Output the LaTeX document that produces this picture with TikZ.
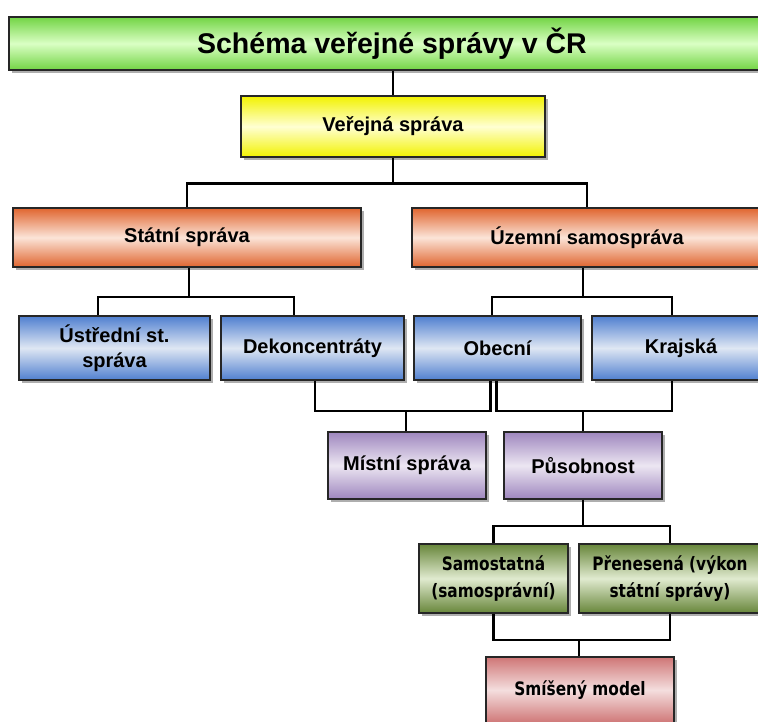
\documentclass[tikz,border=0pt]{standalone}
\usepackage{fontspec}
\setmainfont{Liberation Sans}
\newfontfamily\tahomafont[FakeStretch=0.83]{DejaVu Sans}
\usetikzlibrary{shadows}
\definecolor{gE}{HTML}{72D444}\definecolor{gM}{HTML}{DAFFC4}
\definecolor{yE}{HTML}{F2F200}\definecolor{yM}{HTML}{FFFFD2}
\definecolor{oE}{HTML}{E0652F}\definecolor{oM}{HTML}{FBE4D8}
\definecolor{bE}{HTML}{4F7FD0}\definecolor{bM}{HTML}{DFE7F3}
\definecolor{pE}{HTML}{9E86BE}\definecolor{pM}{HTML}{ECE6F2}
\definecolor{vE}{HTML}{67863A}\definecolor{vM}{HTML}{E0EACF}
\definecolor{rE}{HTML}{CF7676}\definecolor{rM}{HTML}{F4DEDE}
\begin{document}
\begin{tikzpicture}[x=1pt,y=-1pt,
  box/.style={draw=black!85, line width=1.2pt, inner sep=0pt, align=center,
    drop shadow={shadow xshift=3pt, shadow yshift=-3pt, opacity=0.45, fill=black!70},
    font=\bfseries\fontsize{20}{25}\selectfont},
  grad/.style 2 args={top color=#1, bottom color=#1, middle color=#2},
  tbox/.style={box, font=\tahomafont\bfseries\fontsize{18.5}{27}\selectfont},
  conn/.style={draw=black, line width=2.2pt, line join=miter}]
\useasboundingbox (0,0) rectangle (758,722);
\clip (0,0) rectangle (758,722);
\fill[white] (0,0) rectangle (758,722);
% nodes
\node[box, grad={gE}{gM}, minimum width=766pt, minimum height=53pt,
      font=\bfseries\fontsize{28.5}{32}\selectfont] (title) at (392,43.5) {Schéma veřejné správy v ČR};
\node[box, grad={yE}{yM}, minimum width=304pt, minimum height=61pt] (ver) at (393,126.5) {Veřejná správa};
\node[box, grad={oE}{oM}, minimum width=348pt, minimum height=59pt] (statni) at (187,237.5) {Státní správa};
\node[box, grad={oE}{oM}, minimum width=350pt, minimum height=59pt] (uzemni) at (587,237.5) {Územní samospráva};
\node[box, grad={bE}{bM}, minimum width=191pt, minimum height=64pt] (ustr) at (114.5,348) {Ústřední st.\\správa};
\node[box, grad={bE}{bM}, minimum width=183pt, minimum height=64pt] (dek) at (312.5,348) {Dekoncentráty};
\node[box, grad={bE}{bM}, minimum width=167pt, minimum height=64pt] (obec) at (497.5,348) {Obecní};
\node[box, grad={bE}{bM}, minimum width=178pt, minimum height=64pt] (kraj) at (681,348) {Krajská};
\node[box, grad={pE}{pM}, minimum width=158pt, minimum height=67pt] (mistni) at (407,465.5) {Místní správa};
\node[box, grad={pE}{pM}, minimum width=158pt, minimum height=67pt] (pus) at (583,465.5) {Působnost};
\node[tbox, grad={vE}{vM}, minimum width=149pt, minimum height=69pt] (samo) at (493.5,578.5) {Samostatná\\(samosprávní)};
\node[tbox, grad={vE}{vM}, minimum width=182pt, minimum height=69pt] (pren) at (670,578.5) {Přenesená (výkon\\státní správy)};
\node[tbox, grad={rE}{rM}, minimum width=188pt, minimum height=66pt] (smis) at (580,690) {Smíšený model};
% connectors
\draw[conn] (ver.north |- title.south) -- (ver.north);
\draw[conn] (ver.south) -- ++(0,26) coordinate (b1) -| (statni.north);
\draw[conn] (b1) -| (uzemni.north);
\draw[conn] ([xshift=2pt]statni.south) -- ++(0,29) coordinate (b2) -| ([xshift=-16.5pt]ustr.north);
\draw[conn] (b2) -| ([xshift=-18.5pt]dek.north);
\draw[conn] ([xshift=-4pt]uzemni.south) -- ++(0,29) coordinate (b3) -| ([xshift=-5.5pt]obec.north);
\draw[conn] (b3) -| ([xshift=-9pt]kraj.north);
\draw[conn] ([xshift=2.5pt]dek.south) -- ++(0,30) coordinate (b4) -| ([xshift=-7pt]obec.south);
\draw[conn] ([xshift=-1pt]mistni.north) -- ([xshift=-1pt]mistni.north |- b4);
\draw[conn] ([xshift=-1pt]obec.south) -- ++(0,30) coordinate (b5) -| ([xshift=-9pt]kraj.south);
\draw[conn] (pus.north) -- (pus.north |- b5);
\draw[conn] (pus.south) -- ++(0,26) coordinate (b6) -| (samo.north);
\draw[conn] (b6) -| (pren.north);
\draw[conn] (samo.south) -- ++(0,26) coordinate (b7) -| (pren.south);
\draw[conn] ([xshift=-1pt]smis.north) -- ([xshift=-1pt]smis.north |- b7);
\end{tikzpicture}
\end{document}
